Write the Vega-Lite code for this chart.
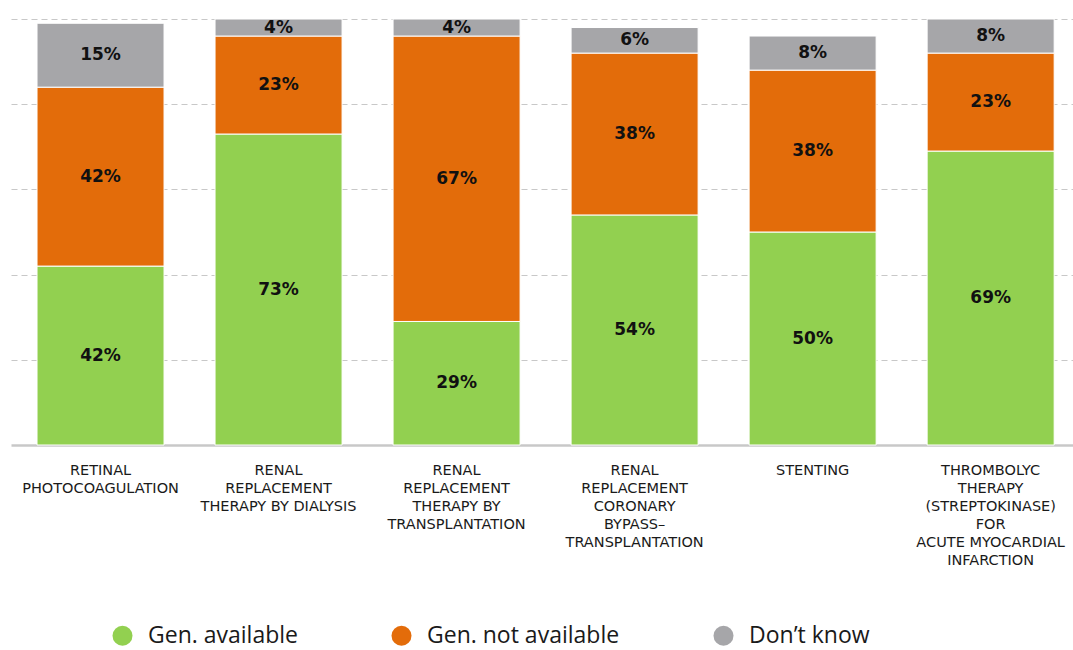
{
  "$schema": "https://vega.github.io/schema/vega-lite/v6.json",
  "width": 1062,
  "height": 426,
  "autosize": {"type": "none"},
  "padding": {"left": 11, "top": 19, "right": 0, "bottom": 205},
  "background": "white",
  "config": {"view": {"stroke": null}},
  "data": {
    "values": [
      {"cat": "RETINAL|PHOTOCOAGULATION", "ord": 1, "series": "Gen. available", "k": 1, "v": 42},
      {"cat": "RETINAL|PHOTOCOAGULATION", "ord": 1, "series": "Gen. not available", "k": 2, "v": 42},
      {"cat": "RETINAL|PHOTOCOAGULATION", "ord": 1, "series": "Don’t know", "k": 3, "v": 15},
      {"cat": "RENAL|REPLACEMENT|THERAPY BY DIALYSIS", "ord": 2, "series": "Gen. available", "k": 1, "v": 73},
      {"cat": "RENAL|REPLACEMENT|THERAPY BY DIALYSIS", "ord": 2, "series": "Gen. not available", "k": 2, "v": 23},
      {"cat": "RENAL|REPLACEMENT|THERAPY BY DIALYSIS", "ord": 2, "series": "Don’t know", "k": 3, "v": 4},
      {"cat": "RENAL|REPLACEMENT|THERAPY BY|TRANSPLANTATION", "ord": 3, "series": "Gen. available", "k": 1, "v": 29},
      {"cat": "RENAL|REPLACEMENT|THERAPY BY|TRANSPLANTATION", "ord": 3, "series": "Gen. not available", "k": 2, "v": 67},
      {"cat": "RENAL|REPLACEMENT|THERAPY BY|TRANSPLANTATION", "ord": 3, "series": "Don’t know", "k": 3, "v": 4},
      {"cat": "RENAL|REPLACEMENT|CORONARY|BYPASS–|TRANSPLANTATION", "ord": 4, "series": "Gen. available", "k": 1, "v": 54},
      {"cat": "RENAL|REPLACEMENT|CORONARY|BYPASS–|TRANSPLANTATION", "ord": 4, "series": "Gen. not available", "k": 2, "v": 38},
      {"cat": "RENAL|REPLACEMENT|CORONARY|BYPASS–|TRANSPLANTATION", "ord": 4, "series": "Don’t know", "k": 3, "v": 6},
      {"cat": "STENTING", "ord": 5, "series": "Gen. available", "k": 1, "v": 50},
      {"cat": "STENTING", "ord": 5, "series": "Gen. not available", "k": 2, "v": 38},
      {"cat": "STENTING", "ord": 5, "series": "Don’t know", "k": 3, "v": 8},
      {"cat": "THROMBOLYC|THERAPY|(STREPTOKINASE)|FOR|ACUTE MYOCARDIAL|INFARCTION", "ord": 6, "series": "Gen. available", "k": 1, "v": 69},
      {"cat": "THROMBOLYC|THERAPY|(STREPTOKINASE)|FOR|ACUTE MYOCARDIAL|INFARCTION", "ord": 6, "series": "Gen. not available", "k": 2, "v": 23},
      {"cat": "THROMBOLYC|THERAPY|(STREPTOKINASE)|FOR|ACUTE MYOCARDIAL|INFARCTION", "ord": 6, "series": "Don’t know", "k": 3, "v": 8}
    ]
  },
  "transform": [
    {"stack": "v", "groupby": ["cat"], "sort": [{"field": "k", "order": "ascending"}], "as": ["y0", "y1"]},
    {"calculate": "(datum.y0 + datum.y1) / 2", "as": "ymid"},
    {"calculate": "datum.v + '%'", "as": "lbl"}
  ],
  "encoding": {
    "x": {
      "field": "cat",
      "type": "nominal",
      "sort": {"field": "ord", "order": "ascending"},
      "scale": {"paddingInner": 0.2865, "paddingOuter": 0.126, "align": 0.58},
      "axis": {
        "title": null,
        "labelAngle": 0,
        "labelExpr": "split(datum.value, '|')",
        "labelFont": "DejaVu Sans",
        "labelFontSize": 14.5,
        "labelColor": "#1a1a1a",
        "labelLineHeight": 18,
        "labelBaseline": "top",
        "labelPadding": 18,
        "labelLimit": 300,
        "labelOverlap": false,
        "ticks": false,
        "domain": true,
        "domainColor": "#c8c8c8",
        "domainWidth": 2.5,
        "grid": false
      }
    }
  },
  "layer": [
    {
      "mark": {"type": "bar", "stroke": "white", "strokeWidth": 1},
      "encoding": {
        "y": {
          "field": "y0",
          "type": "quantitative",
          "scale": {"domain": [0, 100], "nice": false},
          "axis": {
            "title": null,
            "labels": false,
            "ticks": false,
            "domain": false,
            "values": [20, 40, 60, 80, 100],
            "grid": true,
            "gridColor": "#c8c8c8",
            "gridDash": [6, 4],
            "gridWidth": 1.2
          }
        },
        "y2": {"field": "y1"},
        "color": {
          "field": "series",
          "type": "nominal",
          "scale": {
            "domain": ["Gen. available", "Gen. not available", "Don’t know"],
            "range": ["#92d050", "#e36c0a", "#a6a6a9"]
          },
          "legend": {
            "title": null,
            "orient": "none",
            "legendX": 100,
            "legendY": 605,
            "direction": "horizontal",
            "symbolType": "circle",
            "symbolSize": 400,
            "symbolStrokeWidth": 0,
            "symbolOpacity": 1,
            "labelFont": "Open Sans",
            "labelFontSize": 23,
            "labelColor": "#1a1a1a",
            "labelOffset": 14,
            "columnPadding": 92,
            "labelLimit": 400
          }
        }
      }
    },
    {
      "mark": {"type": "text", "font": "DejaVu Sans", "fontWeight": "bold", "fontSize": 17, "color": "#111111", "baseline": "middle", "align": "center"},
      "encoding": {
        "y": {"field": "ymid", "type": "quantitative"},
        "text": {"field": "lbl"}
      }
    }
  ]
}
